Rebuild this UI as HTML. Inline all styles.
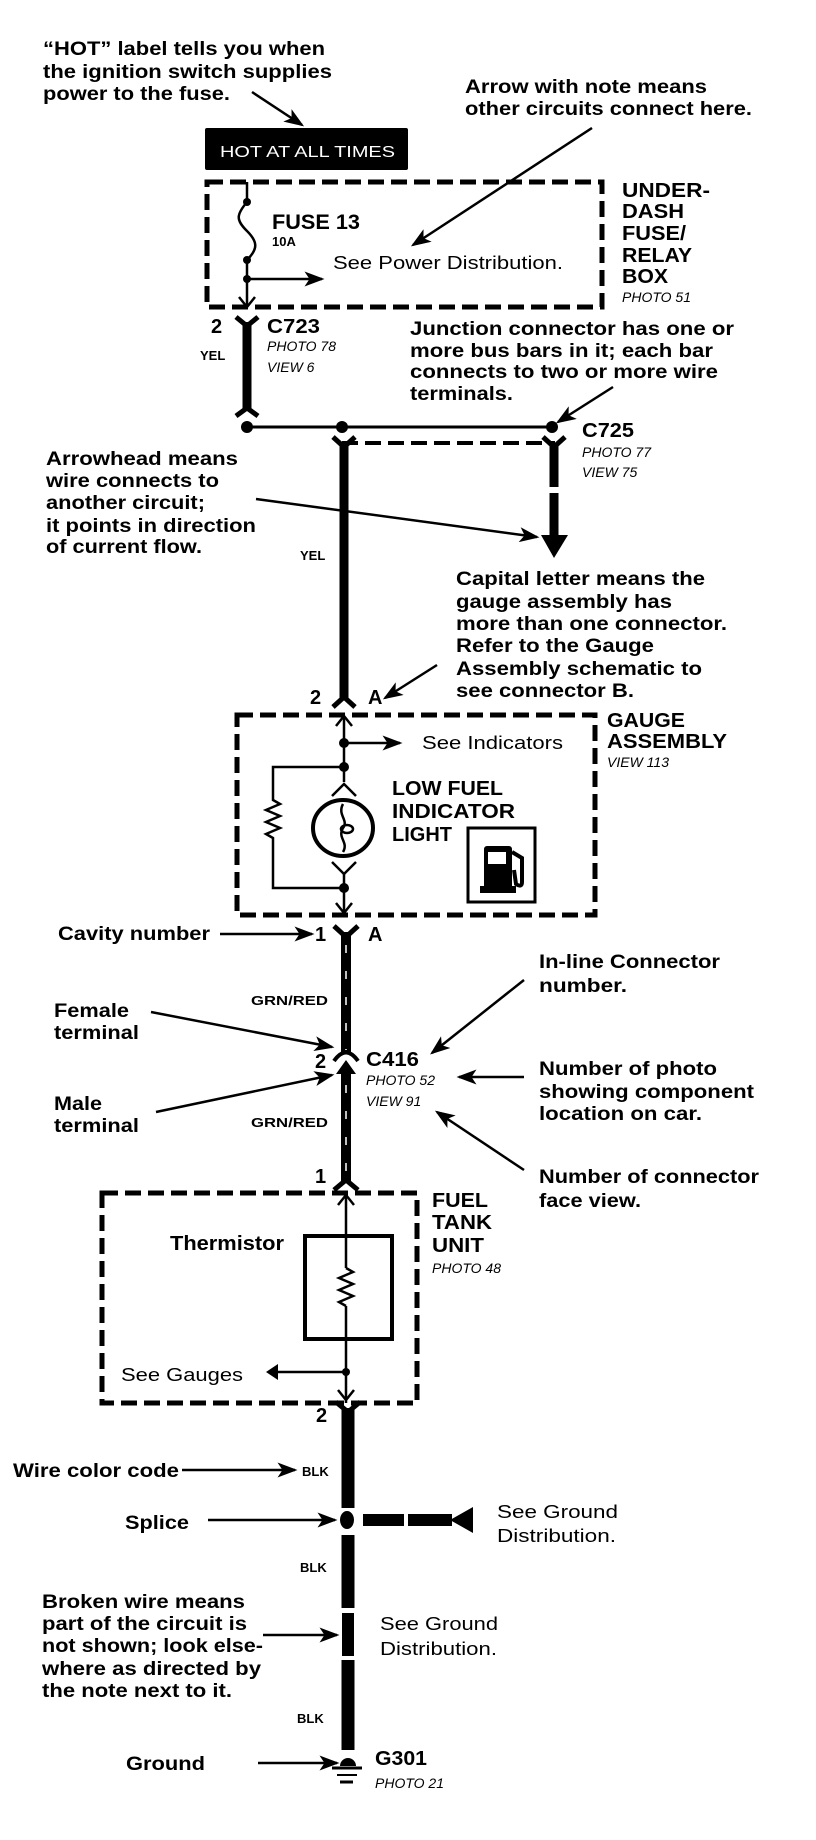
<!DOCTYPE html>
<html><head><meta charset="utf-8"><style>
html,body{margin:0;padding:0;background:#fff;}
svg{display:block;}
text{font-family:"Liberation Sans",Arial,sans-serif;fill:#000;}
.b{font-weight:bold;font-size:19px;}
.l{font-weight:bold;font-size:20px;}
.i{font-style:italic;font-size:14px;}
.s{font-weight:bold;font-size:13px;}
.r{font-size:18px;}
</style></head><body>
<svg width="816" height="1840" viewBox="0 0 816 1840" xmlns="http://www.w3.org/2000/svg">
<defs>
<marker id="ah" markerWidth="8" markerHeight="6" refX="7" refY="3" orient="auto" markerUnits="strokeWidth">
<path d="M0,0 L8,3 L0,6 L2,3 z" fill="#000"/></marker>
</defs>
<g stroke="#000" stroke-width="2.5" fill="none" marker-end="url(#ah)">
<line x1="252" y1="92" x2="302" y2="125"/>
<line x1="592" y1="128" x2="413" y2="245"/>
<line x1="613" y1="387" x2="558" y2="422"/>
<line x1="256" y1="499" x2="537" y2="537"/>
<line x1="437" y1="665" x2="385" y2="698"/>
<line x1="220" y1="934" x2="312" y2="934"/>
<line x1="151" y1="1012" x2="332" y2="1047"/>
<line x1="156" y1="1112" x2="332" y2="1075"/>
<line x1="524" y1="980" x2="432" y2="1053"/>
<line x1="524" y1="1077" x2="459" y2="1077"/>
<line x1="524" y1="1170" x2="437" y2="1112"/>
<line x1="182" y1="1470" x2="295" y2="1470"/>
<line x1="208" y1="1520" x2="335" y2="1520"/>
<line x1="263" y1="1635" x2="337" y2="1635"/>
<line x1="258" y1="1763" x2="337" y2="1763"/>
<line x1="247" y1="279" x2="322" y2="279"/>
<line x1="344" y1="743" x2="400" y2="743"/>
</g>
<text class="b" x="43" y="55" textLength="282" lengthAdjust="spacingAndGlyphs">“HOT” label tells you when</text>
<text class="b" x="43" y="78" textLength="289" lengthAdjust="spacingAndGlyphs">the ignition switch supplies</text>
<text class="b" x="43" y="100" textLength="187" lengthAdjust="spacingAndGlyphs">power to the fuse.</text>
<text class="b" x="465" y="93" textLength="242" lengthAdjust="spacingAndGlyphs">Arrow with note means</text>
<text class="b" x="465" y="115" textLength="287" lengthAdjust="spacingAndGlyphs">other circuits connect here.</text>
<rect x="205" y="128" width="203" height="42" rx="2" fill="#000"/>
<text x="220" y="157" font-size="16" style="fill:#fff" textLength="175" lengthAdjust="spacingAndGlyphs">HOT AT ALL TIMES</text>
<g fill="none" stroke="#000" stroke-width="5" stroke-dasharray="16 7">
<rect x="207" y="182" width="395" height="125"/>
<rect x="237" y="715" width="358" height="200"/>
<rect x="102" y="1193" width="315" height="210"/>
<line x1="342" y1="443" x2="555" y2="443" stroke-width="4"/>
</g>
<g stroke="#000" fill="none" stroke-width="2.5">
<line x1="247" y1="182" x2="247" y2="202"/>
<path d="M247,202 C236,215 236,220 247,231 C258,242 258,249 247,260"/>
<line x1="247" y1="260" x2="247" y2="307"/>
<path d="M239,297 L247,307 L255,297"/>
</g>
<g fill="#000"><circle cx="247" cy="202" r="4"/><circle cx="247" cy="260" r="4"/><circle cx="247" cy="279" r="4"/></g>
<text x="272" y="229" font-weight="bold" font-size="21" textLength="88" lengthAdjust="spacingAndGlyphs">FUSE 13</text>
<text x="272" y="246" font-weight="bold" font-size="13">10A</text>
<text class="r" x="333" y="269" textLength="230" lengthAdjust="spacingAndGlyphs">See Power Distribution.</text>
<text class="l" x="622" y="197" textLength="88" lengthAdjust="spacingAndGlyphs">UNDER-</text>
<text class="l" x="622" y="218" textLength="62" lengthAdjust="spacingAndGlyphs">DASH</text>
<text class="l" x="622" y="240" textLength="64" lengthAdjust="spacingAndGlyphs">FUSE/</text>
<text class="l" x="622" y="262" textLength="70" lengthAdjust="spacingAndGlyphs">RELAY</text>
<text class="l" x="622" y="283" textLength="46" lengthAdjust="spacingAndGlyphs">BOX</text>
<text class="i" x="622" y="302">PHOTO 51</text>
<!-- C723 -->
<g stroke="#000" fill="none" stroke-width="5">
<path d="M236,317 L247,326 L258,317"/>
<path d="M236,416 L247,408 L258,416"/>
</g>
<line x1="247" y1="322" x2="247" y2="411" stroke="#000" stroke-width="9"/>
<text class="l" x="211" y="333">2</text>
<text class="l" x="267" y="333" textLength="53" lengthAdjust="spacingAndGlyphs">C723</text>
<text class="i" x="267" y="351">PHOTO 78</text>
<text class="i" x="267" y="372">VIEW 6</text>
<text class="s" x="200" y="360">YEL</text>
<text class="b" x="410" y="335" textLength="324" lengthAdjust="spacingAndGlyphs">Junction connector has one or</text>
<text class="b" x="410" y="357" textLength="303" lengthAdjust="spacingAndGlyphs">more bus bars in it; each bar</text>
<text class="b" x="410" y="378" textLength="308" lengthAdjust="spacingAndGlyphs">connects to two or more wire</text>
<text class="b" x="410" y="400" textLength="103" lengthAdjust="spacingAndGlyphs">terminals.</text>
<line x1="247" y1="427" x2="552" y2="427" stroke="#000" stroke-width="3"/>
<g fill="#000"><circle cx="247" cy="427" r="6"/><circle cx="342" cy="427" r="6"/><circle cx="552" cy="427" r="6"/></g>
<text class="l" x="582" y="437" textLength="52" lengthAdjust="spacingAndGlyphs">C725</text>
<text class="i" x="582" y="457">PHOTO 77</text>
<text class="i" x="582" y="477">VIEW 75</text>
<g stroke="#000" fill="none" stroke-width="5">
<path d="M333,437 L344,447 L355,437"/>
<path d="M543,437 L554,447 L565,437"/>
<path d="M333,707 L344,697 L355,707"/>
</g>
<line x1="344" y1="443" x2="344" y2="700" stroke="#000" stroke-width="9"/>
<line x1="554" y1="443" x2="554" y2="487" stroke="#000" stroke-width="9"/>
<line x1="554" y1="493" x2="554" y2="537" stroke="#000" stroke-width="9"/>
<polygon points="541,535 568,535 554,558" fill="#000"/>
<text class="b" x="46" y="465" textLength="192" lengthAdjust="spacingAndGlyphs">Arrowhead means</text>
<text class="b" x="46" y="487" textLength="173" lengthAdjust="spacingAndGlyphs">wire connects to</text>
<text class="b" x="46" y="509" textLength="159" lengthAdjust="spacingAndGlyphs">another circuit;</text>
<text class="b" x="46" y="532" textLength="210" lengthAdjust="spacingAndGlyphs">it points in direction</text>
<text class="b" x="46" y="553" textLength="156" lengthAdjust="spacingAndGlyphs">of current flow.</text>
<text class="s" x="300" y="560">YEL</text>
<text class="b" x="456" y="585" textLength="249" lengthAdjust="spacingAndGlyphs">Capital letter means the</text>
<text class="b" x="456" y="608" textLength="216" lengthAdjust="spacingAndGlyphs">gauge assembly has</text>
<text class="b" x="456" y="630" textLength="271" lengthAdjust="spacingAndGlyphs">more than one connector.</text>
<text class="b" x="456" y="652" textLength="198" lengthAdjust="spacingAndGlyphs">Refer to the Gauge</text>
<text class="b" x="456" y="675" textLength="246" lengthAdjust="spacingAndGlyphs">Assembly schematic to</text>
<text class="b" x="456" y="697" textLength="178" lengthAdjust="spacingAndGlyphs">see connector B.</text>
<text class="l" x="310" y="704">2</text>
<text class="l" x="368" y="704">A</text>
<text class="l" x="607" y="727" textLength="78" lengthAdjust="spacingAndGlyphs">GAUGE</text>
<text class="l" x="607" y="748" textLength="120" lengthAdjust="spacingAndGlyphs">ASSEMBLY</text>
<text class="i" x="607" y="767">VIEW 113</text>
<text class="r" x="422" y="749" textLength="141" lengthAdjust="spacingAndGlyphs">See Indicators</text>
<!-- gauge internals -->
<g stroke="#000" fill="none" stroke-width="2.5">
<line x1="344" y1="716" x2="344" y2="782"/>
<path d="M336,726 L344,716 L352,726"/>
<path d="M344,767 L273,767 L273,800 L280,804 L266,810 L280,816 L266,822 L280,828 L266,834 L273,838 L273,888 L344,888"/>
<path d="M332,796 L344,784 L356,796"/>
<ellipse cx="343" cy="828" rx="30" ry="28" stroke-width="4"/>
<path d="M343,804 C337,815 349,820 343,828 C337,838 349,842 343,852"/>
<ellipse cx="347" cy="829" rx="6" ry="4"/>
<path d="M332,862 L344,874 L356,862"/>
<line x1="344" y1="874" x2="344" y2="915"/>
<path d="M336,903 L344,913 L352,903"/>
<rect x="468" y="828" width="67" height="74" stroke-width="3"/>
</g>
<g fill="#000"><circle cx="344" cy="743" r="5"/><circle cx="344" cy="767" r="5"/><circle cx="344" cy="888" r="5"/></g>
<rect x="484" y="846" width="28" height="46" rx="3" fill="#000"/>
<rect x="488" y="852" width="18" height="12" fill="#fff"/>
<rect x="480" y="886" width="36" height="7" fill="#000"/>
<path d="M512,852 L522,858 L522,882 Q522,888 516,884 L514,870" fill="none" stroke="#000" stroke-width="4"/>
<text x="392" y="795" font-weight="bold" font-size="20" textLength="111" lengthAdjust="spacingAndGlyphs">LOW FUEL</text>
<text x="392" y="818" font-weight="bold" font-size="20" textLength="123" lengthAdjust="spacingAndGlyphs">INDICATOR</text>
<text x="392" y="841" font-weight="bold" font-size="20" textLength="60" lengthAdjust="spacingAndGlyphs">LIGHT</text>
<!-- cavity -->
<text class="b" x="58" y="940" textLength="152" lengthAdjust="spacingAndGlyphs">Cavity number</text>
<text class="l" x="315" y="941">1</text>
<text class="l" x="368" y="941">A</text>
<path d="M334,926 L346,937 L358,926" stroke="#000" stroke-width="5" fill="none"/>
<line x1="346" y1="932" x2="346" y2="1053" stroke="#000" stroke-width="10"/>
<line x1="346" y1="945" x2="346" y2="1050" stroke="#fff" stroke-width="1.5" stroke-dasharray="8 18"/>
<path d="M334,1061 Q346,1044 358,1061" stroke="#000" stroke-width="4" fill="none"/>
<polygon points="336,1074 346,1060 356,1074" fill="#000"/>
<line x1="346" y1="1070" x2="346" y2="1183" stroke="#000" stroke-width="10"/>
<line x1="346" y1="1085" x2="346" y2="1175" stroke="#fff" stroke-width="1.5" stroke-dasharray="8 18"/>
<path d="M334,1190 L346,1180 L358,1190" stroke="#000" stroke-width="5" fill="none"/>
<text class="s" x="251" y="1005" textLength="77" lengthAdjust="spacingAndGlyphs">GRN/RED</text>
<text class="s" x="251" y="1127" textLength="77" lengthAdjust="spacingAndGlyphs">GRN/RED</text>
<text class="b" x="54" y="1017" textLength="75" lengthAdjust="spacingAndGlyphs">Female</text>
<text class="b" x="54" y="1039" textLength="85" lengthAdjust="spacingAndGlyphs">terminal</text>
<text class="b" x="54" y="1110" textLength="48" lengthAdjust="spacingAndGlyphs">Male</text>
<text class="b" x="54" y="1132" textLength="85" lengthAdjust="spacingAndGlyphs">terminal</text>
<text class="l" x="315" y="1068">2</text>
<text class="l" x="366" y="1066" textLength="53" lengthAdjust="spacingAndGlyphs">C416</text>
<text class="i" x="366" y="1085">PHOTO 52</text>
<text class="i" x="366" y="1106">VIEW 91</text>
<text class="b" x="539" y="968" textLength="181" lengthAdjust="spacingAndGlyphs">In-line Connector</text>
<text class="b" x="539" y="992" textLength="88" lengthAdjust="spacingAndGlyphs">number.</text>
<text class="b" x="539" y="1075" textLength="178" lengthAdjust="spacingAndGlyphs">Number of photo</text>
<text class="b" x="539" y="1098" textLength="215" lengthAdjust="spacingAndGlyphs">showing component</text>
<text class="b" x="539" y="1120" textLength="163" lengthAdjust="spacingAndGlyphs">location on car.</text>
<text class="b" x="539" y="1183" textLength="220" lengthAdjust="spacingAndGlyphs">Number of connector</text>
<text class="b" x="539" y="1207" textLength="102" lengthAdjust="spacingAndGlyphs">face view.</text>
<text class="l" x="315" y="1183">1</text>
<!-- fuel tank -->
<text class="l" x="432" y="1207" textLength="56" lengthAdjust="spacingAndGlyphs">FUEL</text>
<text class="l" x="432" y="1229" textLength="60" lengthAdjust="spacingAndGlyphs">TANK</text>
<text class="l" x="432" y="1252" textLength="52" lengthAdjust="spacingAndGlyphs">UNIT</text>
<text class="i" x="432" y="1273">PHOTO 48</text>
<text class="l" x="170" y="1250" textLength="114" lengthAdjust="spacingAndGlyphs">Thermistor</text>
<rect x="305" y="1236" width="87" height="103" fill="none" stroke="#000" stroke-width="4"/>
<g stroke="#000" fill="none" stroke-width="2.5">
<line x1="346" y1="1195" x2="346" y2="1268"/>
<path d="M338,1205 L346,1195 L354,1205"/>
<path d="M346,1268 L353,1272 L339,1278 L353,1284 L339,1290 L353,1296 L339,1302 L346,1306"/>
<line x1="346" y1="1306" x2="346" y2="1403"/>
<line x1="346" y1="1372" x2="276" y2="1372"/>
<path d="M338,1390 L346,1400 L354,1390"/>
</g>
<polygon points="266,1372 278,1364 278,1380" fill="#000"/>
<circle cx="346" cy="1372" r="4" fill="#000"/>
<text class="r" x="121" y="1381" textLength="122" lengthAdjust="spacingAndGlyphs">See Gauges</text>
<text class="l" x="316" y="1422">2</text>
<path d="M336,1402 L348,1412 L360,1402" stroke="#000" stroke-width="5" fill="none"/>
<!-- bottom wire -->
<g stroke="#000" stroke-width="13">
<line x1="348" y1="1408" x2="348" y2="1508"/>
<line x1="348" y1="1535" x2="348" y2="1608"/>
<line x1="348" y1="1613" x2="348" y2="1656" stroke-width="12"/>
<line x1="348" y1="1660" x2="348" y2="1750"/>
</g>
<ellipse cx="347" cy="1520" rx="7" ry="9" fill="#000"/>
<rect x="363" y="1514" width="41" height="12" fill="#000"/>
<rect x="408" y="1514" width="44" height="12" fill="#000"/>
<polygon points="450,1520 473,1507 473,1533" fill="#000"/>
<path d="M340,1766 A8,8 0 0 1 356,1766 Z" fill="#000"/>
<line x1="332" y1="1768" x2="362" y2="1768" stroke="#000" stroke-width="3"/>
<line x1="337" y1="1775" x2="357" y2="1775" stroke="#000" stroke-width="2"/>
<line x1="340" y1="1782" x2="353" y2="1782" stroke="#000" stroke-width="3"/>
<text class="b" x="13" y="1477" textLength="166" lengthAdjust="spacingAndGlyphs">Wire color code</text>
<text class="s" x="302" y="1476">BLK</text>
<text class="b" x="125" y="1529" textLength="64" lengthAdjust="spacingAndGlyphs">Splice</text>
<text class="r" x="497" y="1518" textLength="121" lengthAdjust="spacingAndGlyphs">See Ground</text>
<text class="r" x="497" y="1542" textLength="119" lengthAdjust="spacingAndGlyphs">Distribution.</text>
<text class="s" x="300" y="1572">BLK</text>
<text class="b" x="42" y="1608" textLength="203" lengthAdjust="spacingAndGlyphs">Broken wire means</text>
<text class="b" x="42" y="1630" textLength="205" lengthAdjust="spacingAndGlyphs">part of the circuit is</text>
<text class="b" x="42" y="1652" textLength="221" lengthAdjust="spacingAndGlyphs">not shown; look else-</text>
<text class="b" x="42" y="1675" textLength="219" lengthAdjust="spacingAndGlyphs">where as directed by</text>
<text class="b" x="42" y="1697" textLength="190" lengthAdjust="spacingAndGlyphs">the note next to it.</text>
<text class="r" x="380" y="1630" textLength="118" lengthAdjust="spacingAndGlyphs">See Ground</text>
<text class="r" x="380" y="1655" textLength="117" lengthAdjust="spacingAndGlyphs">Distribution.</text>
<text class="s" x="297" y="1723">BLK</text>
<text class="b" x="126" y="1770" textLength="79" lengthAdjust="spacingAndGlyphs">Ground</text>
<text class="l" x="375" y="1765" textLength="52" lengthAdjust="spacingAndGlyphs">G301</text>
<text class="i" x="375" y="1788">PHOTO 21</text>
</svg>
</body></html>
